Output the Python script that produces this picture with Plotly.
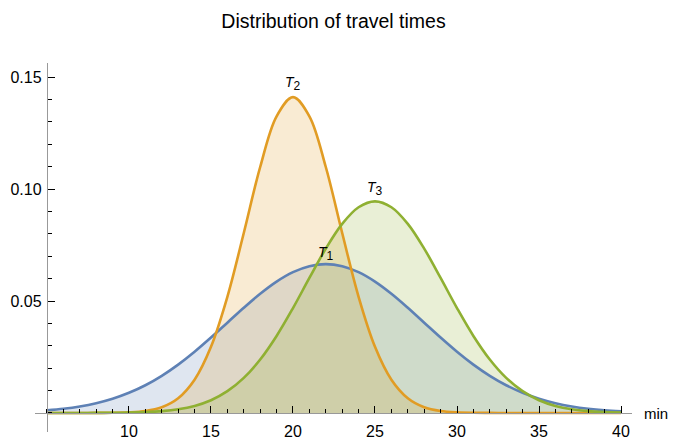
import plotly.graph_objects as go

# Travel time in minutes
minutes = list(range(5, 41))

# Probability density of each route's travel time at each minute
t1_density = [0.00120, 0.00190, 0.00292, 0.00437, 0.00636, 0.00900, 0.01238, 0.01658,
              0.02159, 0.02733, 0.03367, 0.04033, 0.04699, 0.05324, 0.05868, 0.06290,
              0.06557, 0.06649, 0.06557, 0.06290, 0.05868, 0.05324, 0.04699, 0.04033,
              0.03367, 0.02733, 0.02159, 0.01658, 0.01238, 0.00900, 0.00636, 0.00437,
              0.00292, 0.00190, 0.00120, 0.00074]
t2_density = [0.0, 0.0, 0.0, 0.00002, 0.00007, 0.00027, 0.00089, 0.00258,
              0.00660, 0.01487, 0.02957, 0.05189, 0.08037, 0.10985, 0.13250, 0.14105,
              0.13250, 0.10985, 0.08037, 0.05189, 0.02957, 0.01487, 0.00660, 0.00258,
              0.00089, 0.00027, 0.00007, 0.00002, 0.0, 0.0, 0.0, 0.0,
              0.0, 0.0, 0.0, 0.0]
t3_density = [0.0, 0.0, 0.00001, 0.00003, 0.00007, 0.00017, 0.00039, 0.00082,
              0.00166, 0.00316, 0.00570, 0.00972, 0.01567, 0.02388, 0.03440, 0.04684,
              0.06030, 0.07340, 0.08446, 0.09188, 0.09450, 0.09188, 0.08446, 0.07340,
              0.06030, 0.04684, 0.03440, 0.02388, 0.01567, 0.00972, 0.00570, 0.00316,
              0.00166, 0.00082, 0.00039, 0.00017]

series_names = ["T1", "T2", "T3"]
series_labels = [
    "<i>T</i><sub><span style='font-size:12px'>1</span></sub>",
    "<i>T</i><sub><span style='font-size:12px'>2</span></sub>",
    "<i>T</i><sub><span style='font-size:12px'>3</span></sub>",
]
label_x = [22, 20, 25]
label_y = [0.0714, 0.1473, 0.1004]

x_tick_vals = [10, 15, 20, 25, 30, 35, 40]
y_tick_vals = [0.05, 0.10, 0.15]
y_tick_text = ["0.05", "0.10", "0.15"]

line_colors = ["#5E81B5", "#E19C24", "#8FB032"]
fill_colors = ["rgba(94,129,181,0.2)", "rgba(225,156,36,0.2)", "rgba(143,176,50,0.2)"]

FONT = "Liberation Sans, Arial, sans-serif"

x_range = [4.27, 40.67]
y_range = [-0.0085, 0.1563]

all_density = [t1_density, t2_density, t3_density]

fig = go.Figure()
# Shaded areas first, so every curve stays visible above all fills
for name, dens, fc in zip(series_names, all_density, fill_colors):
    fig.add_trace(go.Scatter(
        x=minutes, y=dens, name=name, mode="lines",
        line=dict(width=0, shape="spline", smoothing=1),
        fill="tozeroy", fillcolor=fc, hoverinfo="skip",
    ))
for name, dens, lc in zip(series_names, all_density, line_colors):
    fig.add_trace(go.Scatter(
        x=minutes, y=dens, name=name, mode="lines",
        line=dict(color=lc, width=2.6, shape="spline", smoothing=1),
        hoverinfo="x+y+name",
    ))

for text, lx, ly in zip(series_labels, label_x, label_y):
    fig.add_annotation(x=lx, y=ly, text=text, showarrow=False,
                       font=dict(family=FONT, size=14, color="black"))

fig.add_annotation(xref="paper", yref="y", x=1.018, xanchor="left", y=0, yshift=-1,
                   text="min", showarrow=False, borderpad=0,
                   font=dict(family=FONT, size=15, color="black"))

x_pos = (5 - x_range[0]) / (x_range[1] - x_range[0])
y_pos = (0 - y_range[0]) / (y_range[1] - y_range[0])

fig.update_layout(
    width=673, height=440,
    margin=dict(l=35, r=41, t=63, b=8),
    paper_bgcolor="white", plot_bgcolor="white",
    showlegend=False,
    title=dict(text="Distribution of travel times", x=0.5, xref="paper",
               y=0.953, yref="container", yanchor="middle",
               font=dict(family=FONT, size=19.5, color="black")),
    xaxis=dict(range=x_range, anchor="free", position=y_pos,
               showgrid=False, zeroline=False, showline=True,
               linecolor="#999999", linewidth=1.3,
               tickmode="array", tickvals=x_tick_vals,
               ticks="inside", ticklen=7, tickwidth=1, tickcolor="black",
               ticklabelstandoff=4,
               tickfont=dict(family=FONT, size=16, color="black"),
               minor=dict(tickmode="linear", tick0=0, dtick=1, ticks="inside",
                          ticklen=4, tickwidth=1, tickcolor="black"),
               automargin=False),
    yaxis=dict(range=y_range, anchor="free", position=x_pos,
               showgrid=False, zeroline=False, showline=True,
               linecolor="#999999", linewidth=1.3,
               tickmode="array", tickvals=y_tick_vals, ticktext=y_tick_text,
               ticks="inside", ticklen=7, tickwidth=1, tickcolor="black",
               ticklabelstandoff=2,
               tickfont=dict(family=FONT, size=16, color="black"),
               minor=dict(tickmode="linear", tick0=0, dtick=0.01, ticks="inside",
                          ticklen=4, tickwidth=1, tickcolor="black"),
               automargin=False),
)

fig.write_html("out.html")
